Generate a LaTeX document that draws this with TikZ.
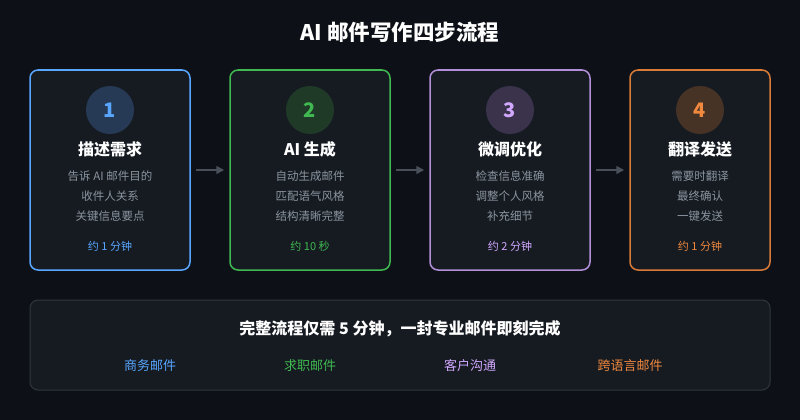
\documentclass[tikz,border=0pt]{standalone}
\usepackage{fontspec}
\setmainfont{Noto Sans CJK SC}
\usetikzlibrary{arrows,arrows.meta,positioning}

\definecolor{bgdark}{HTML}{0D1117}
\definecolor{cardbg}{HTML}{161B22}
\definecolor{panelline}{HTML}{30363D}
\definecolor{txtgray}{HTML}{8B949E}
\definecolor{arrgray}{HTML}{484F58}
\definecolor{cblue}{HTML}{58A6FF}
\definecolor{cgreen}{HTML}{3FB950}
\definecolor{cpurple}{HTML}{D2A8FF}
\definecolor{corange}{HTML}{F0883E}
\definecolor{fblue}{HTML}{263A55}
\definecolor{fgreen}{HTML}{1F3B28}
\definecolor{fpurple}{HTML}{3A334B}
\definecolor{forange}{HTML}{463325}

\begin{document}
\begin{tikzpicture}[x=1pt,y=-1pt,>={Triangle[length=8pt,width=8pt]},shorten >=5pt,shorten <=5pt]
       \tikzstyle{card}=[draw, line width=1.5pt, rounded corners=8pt, fill=cardbg, minimum width=160pt, minimum height=200pt, inner sep=0pt]
       \tikzstyle{num}=[circle, minimum size=48pt, inner sep=0pt, font=\bfseries\fontsize{20}{24}\selectfont]
       \tikzstyle{head}=[text=white, font=\bfseries\fontsize{16}{19}\selectfont]
       \tikzstyle{desc}=[text=txtgray, align=center, font=\fontsize{11.5}{20}\selectfont]
       \tikzstyle{time}=[font=\fontsize{11}{13}\selectfont]
       \tikzstyle{tag}=[font=\fontsize{13}{15}\selectfont]

       \fill[bgdark] (0,0) rectangle (800,420);
       \useasboundingbox (0,0) rectangle (800,420);

       \node[text=white, font=\bfseries\fontsize{21.5}{25}\selectfont] (title) at (400,32) {AI 邮件写作四步流程};

       % step cards
       \node[card, draw=cblue] (c_1) at (110,170) {};
       \node[card, draw=cgreen] (c_2) at (310,170) {};
       \node[card, draw=cpurple!85!black] (c_3) at (510,170) {};
       \node[card, draw=corange!90!black, minimum width=140pt] (c_4) at (700,170) {};

       \node[num, fill=fblue, text=cblue] (n_1) at (110,110) {1};
       \node[num, fill=fgreen, text=cgreen] (n_2) at (310,110) {2};
       \node[num, fill=fpurple, text=cpurple] (n_3) at (510,110) {3};
       \node[num, fill=forange, text=corange] (n_4) at (700,110) {4};

       \node[head] (h_1) at (110,149) {描述需求};
       \node[head] (h_2) at (310,149) {AI 生成};
       \node[head] (h_3) at (510,149) {微调优化};
       \node[head] (h_4) at (700,149) {翻译发送};

       \node[desc] (d_1) at (110,196) {告诉 AI 邮件目的\\收件人关系\\关键信息要点};
       \node[desc] (d_2) at (310,196) {自动生成邮件\\匹配语气风格\\结构清晰完整};
       \node[desc] (d_3) at (510,196) {检查信息准确\\调整个人风格\\补充细节};
       \node[desc] (d_4) at (700,196) {需要时翻译\\最终确认\\一键发送};

       \node[time, text=cblue] (t_1) at (110,246) {约 1 分钟};
       \node[time, text=cgreen] (t_2) at (310,246) {约 10 秒};
       \node[time, text=cpurple] (t_3) at (510,246) {约 2 分钟};
       \node[time, text=corange] (t_4) at (700,246) {约 1 分钟};

       \path[->, color=arrgray, line width=1.5pt]
       (c_1) edge (c_2)
       (c_2) edge (c_3)
       (c_3) edge (c_4);

       % summary panel
       \node[draw=panelline, line width=1pt, rounded corners=8pt, fill=cardbg, minimum width=740pt, minimum height=90pt] (panel) at (400,345) {};
       \node[text=white, font=\bfseries\fontsize{16}{19}\selectfont] (sum) at (400,329) {完整流程仅需 5 分钟，一封专业邮件即刻完成};
       \node[tag, text=cblue] (k_1) at (150,366) {商务邮件};
       \node[tag, text=cgreen] (k_2) at (310,366) {求职邮件};
       \node[tag, text=cpurple] (k_3) at (470,366) {客户沟通};
       \node[tag, text=corange] (k_4) at (630,366) {跨语言邮件};
     \end{tikzpicture}
\end{document}
